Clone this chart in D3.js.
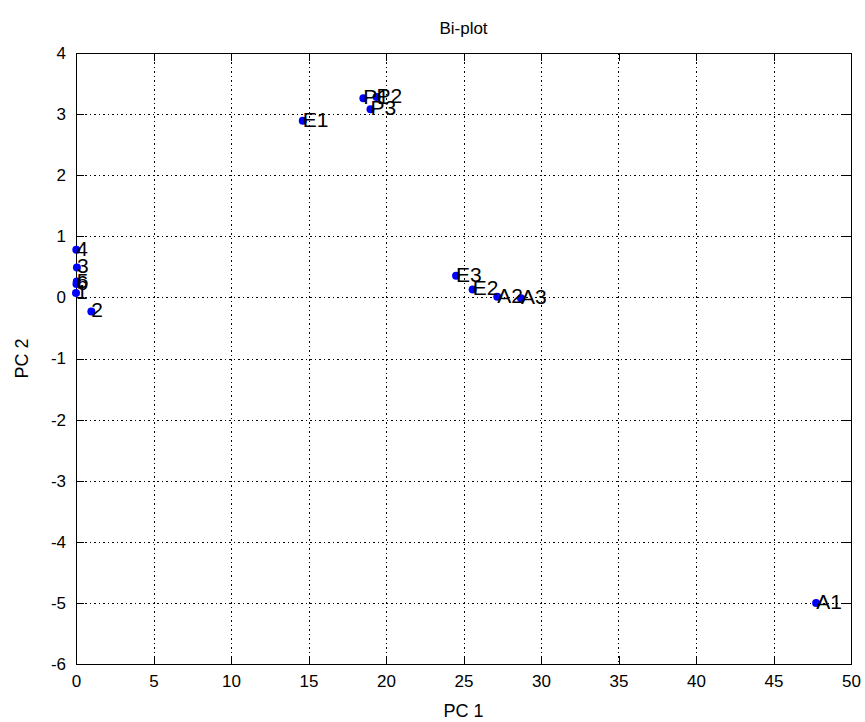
<!DOCTYPE html>
<html>
<head>
<meta charset="utf-8">
<script src="https://cdn.jsdelivr.net/npm/d3@7"></script>
<style>
  html, body { margin: 0; padding: 0; background: #fff; }
  svg { display: block; font-family: "Liberation Sans", Arial, sans-serif; }
</style>
</head>
<body>
<svg id="chart" width="865" height="722"></svg>
<script>
// Observation labels and their scores on the first two principal components
const labels = ["1", "2", "3", "4", "5", "6", "E1", "P1", "P2", "P3", "E3", "E2", "A2", "A3", "A1"];
const pc1 = [0.0, 0.99, 0.06, 0.02, 0.05, 0.03, 14.63, 18.54, 19.39, 19.0, 24.52, 25.59, 27.18, 28.71, 47.75];
const pc2 = [0.07, -0.23, 0.49, 0.78, 0.26, 0.22, 2.89, 3.26, 3.28, 3.08, 0.355, 0.13, 0.01, -0.015, -5.0];

const xTicks = [0, 5, 10, 15, 20, 25, 30, 35, 40, 45, 50];
const yTicks = [-6, -5, -4, -3, -2, -1, 0, 1, 2, 3, 4];

const titleText = "Bi-plot";
const xLabel = "PC 1";
const yLabel = "PC 2";

const svg = d3.select("#chart");
const plotL = 76, plotR = 851, plotT = 53, plotB = 664;

const x = d3.scaleLinear().domain([0, 50]).range([plotL, plotR]);
const y = d3.scaleLinear().domain([-6, 4]).range([plotB, plotT]);

// dotted grid
const grid = svg.append("g")
  .attr("stroke", "#000")
  .attr("stroke-width", 1)
  .attr("stroke-dasharray", "1.5,3")
  .attr("shape-rendering", "crispEdges");
grid.selectAll("line.gx").data(xTicks.slice(1, -1)).join("line")
  .attr("class", "gx")
  .attr("x1", d => Math.round(x(d)) + 0.5).attr("x2", d => Math.round(x(d)) + 0.5)
  .attr("y1", plotT).attr("y2", plotB);
grid.selectAll("line.gy").data(yTicks.slice(1, -1)).join("line")
  .attr("class", "gy")
  .attr("y1", d => Math.round(y(d)) + 0.5).attr("y2", d => Math.round(y(d)) + 0.5)
  .attr("x1", plotL).attr("x2", plotR);

// axes with inward ticks on all four sides
const tickLen = 8;
const axisFont = 17;
const axB = svg.append("g").attr("transform", `translate(0,${plotB})`)
  .call(d3.axisBottom(x).tickValues(xTicks).tickSize(-tickLen).tickPadding(tickLen + 3));
const axT = svg.append("g").attr("transform", `translate(0,${plotT})`)
  .call(d3.axisTop(x).tickValues(xTicks).tickSize(-tickLen).tickFormat(""));
const axL = svg.append("g").attr("transform", `translate(${plotL},0)`)
  .call(d3.axisLeft(y).tickValues(yTicks).tickSize(-tickLen).tickPadding(tickLen + 2));
const axR = svg.append("g").attr("transform", `translate(${plotR},0)`)
  .call(d3.axisRight(y).tickValues(yTicks).tickSize(-tickLen).tickFormat(""));

[axB, axT, axL, axR].forEach(g => {
  g.select(".domain").remove();
  g.selectAll(".tick line").attr("stroke", "#000").attr("shape-rendering", "crispEdges");
  g.selectAll(".tick text")
    .attr("fill", "#000")
    .style("font-family", "'Liberation Sans', Arial, sans-serif")
    .style("font-size", axisFont + "px");
});
axL.selectAll(".tick text").text(d => d < 0 ? "-" + Math.abs(d) : d);

// box
svg.append("rect")
  .attr("x", plotL + 0.5).attr("y", plotT + 0.5)
  .attr("width", plotR - plotL).attr("height", plotB - plotT)
  .attr("fill", "none").attr("stroke", "#000").attr("stroke-width", 1)
  .attr("shape-rendering", "crispEdges");

// points
const pts = labels.map((l, i) => ({ label: l, a: pc1[i], b: pc2[i] }));
svg.append("g").selectAll("circle").data(pts).join("circle")
  .attr("cx", d => x(d.a)).attr("cy", d => y(d.b))
  .attr("r", 4).attr("fill", "#0000ff");

// point labels
svg.append("g").selectAll("text").data(pts).join("text")
  .attr("x", d => x(d.a)).attr("y", d => y(d.b) + 6)
  .attr("font-size", 21).attr("fill", "#000")
  .text(d => d.label);

// title and axis labels
svg.append("text").attr("x", (plotL + plotR) / 2).attr("y", 34)
  .attr("text-anchor", "middle").attr("font-size", 17).text(titleText);
svg.append("text").attr("x", (plotL + plotR) / 2).attr("y", 717)
  .attr("text-anchor", "middle").attr("font-size", 18).text(xLabel);
svg.append("text")
  .attr("transform", `translate(28,${(plotT + plotB) / 2}) rotate(-90)`)
  .attr("text-anchor", "middle").attr("font-size", 18).text(yLabel);
</script>
</body>
</html>
